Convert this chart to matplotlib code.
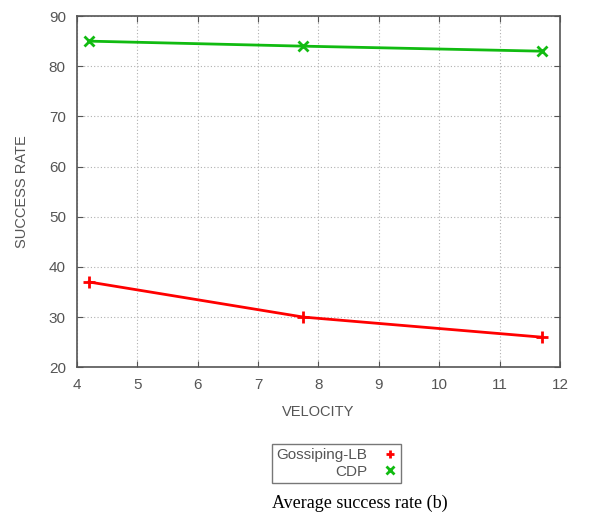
import matplotlib.pyplot as plt

velocity = [4.2, 7.75, 11.7]
gossiping_lb = [37, 30, 26]
cdp = [85, 84, 83]
x_ticks = [4, 5, 6, 7, 8, 9, 10, 11, 12]
y_ticks = [20, 30, 40, 50, 60, 70, 80, 90]

plt.rcParams['font.family'] = ['Liberation Sans', 'DejaVu Sans']

fig = plt.figure(figsize=(6.06, 5.18), dpi=100)
ax = fig.add_axes([0.127, 0.291, 0.797, 0.678])

ax.plot(velocity, gossiping_lb, color='#ff0000', lw=2.0, marker='+', ms=9, mew=2.0,
        label='Gossiping-LB')
ax.plot(velocity, cdp, color='#11bb11', lw=2.0, marker='x', ms=7, mew=2.0,
        label='CDP')

ax.set_xlim(4, 12)
ax.set_ylim(20, 90)
ax.set_xticks(x_ticks)
ax.set_yticks(y_ticks)
ax.grid(True, linestyle=(0, (1, 2)), color='#b0b0b0', lw=0.8)
ax.tick_params(direction='in', top=True, right=True, length=4, color='#555555',
               labelcolor='#555555', labelsize=11, pad=8)
for s in ax.spines.values():
    s.set_color('#555555')
    s.set_linewidth(1.2)

ax.set_xlabel('VELOCITY', color='#555555', fontsize=10.5, labelpad=9)
ax.set_ylabel('SUCCESS RATE', color='#555555', fontsize=10.5, labelpad=14)

leg = fig.legend(loc='center', bbox_to_anchor=(0.555, 0.105), markerfirst=False,
                 fontsize=11, frameon=True, fancybox=False, handlelength=0.8,
                 handletextpad=1.1, borderpad=0.3, labelspacing=0.15,
                 borderaxespad=0, numpoints=1)
leg.get_frame().set_edgecolor('#555555')
leg.get_frame().set_linewidth(1.0)
for h in leg.legend_handles:
    h.set_linestyle('None')
    h.set_markersize(6)
for t in leg.get_texts():
    t.set_color('#555555')
    t.set_ha('right')
leg._legend_box.align = 'right'

fig.text(0.594, 0.028, 'Average success rate (b)', ha='center', va='center',
         fontsize=13, family=['Liberation Serif', 'DejaVu Serif'])

fig.savefig('out.png', dpi=100)
